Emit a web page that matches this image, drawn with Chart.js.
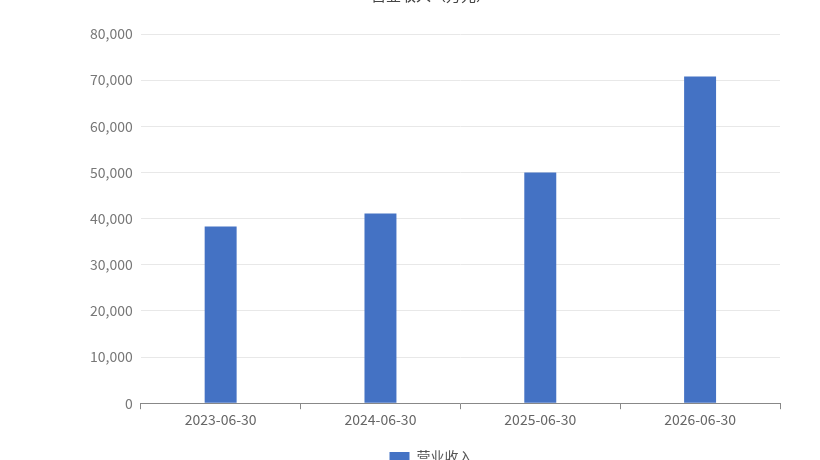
<!DOCTYPE html><html><head><meta charset="utf-8">
<script src="https://cdn.jsdelivr.net/npm/chart.js@4"></script>
<style>html,body{margin:0;padding:0;overflow:hidden;background:#fff;width:820px;height:460px}
#w{position:absolute;left:0;top:-20px;width:820px;height:500px}</style></head><body>
<div id="w"><canvas id="c"></canvas></div>
<script>
const categories=['2023-06-30','2024-06-30','2025-06-30','2026-06-30'];
const seriesName='营业收入';
const values=[38300,41100,50000,70800];
const titleText='营业收入（万元）';
const font='"Noto Sans CJK SC","Noto Sans",sans-serif';
new Chart(document.getElementById('c'),{type:'bar',
data:{labels:categories,datasets:[{label:seriesName,data:values,backgroundColor:'#4472c4',barPercentage:0.2,categoryPercentage:1}]},
options:{responsive:true,maintainAspectRatio:false,animation:false,
layout:{padding:{left:82,right:40,top:0,bottom:6}},
plugins:{title:{display:true,text:titleText,color:'#444',font:{family:font,size:15,weight:'normal'},padding:{top:6,bottom:30}},
legend:{position:'bottom',labels:{font:{family:font,size:14},color:'#555',boxWidth:20,boxHeight:10,padding:20}}},
scales:{x:{grid:{display:true,drawOnChartArea:false,drawTicks:true,tickLength:6,color:'#888',offset:true},border:{color:'#888'},ticks:{color:'#666',font:{family:font,size:14},padding:2}},
y:{min:0,max:80000,ticks:{stepSize:10000,color:'#777',font:{family:font,size:14},padding:8,callback:v=>v.toLocaleString('en-US')},grid:{color:'#e8e8e8',drawTicks:false},border:{display:false}}}}});
</script></body></html>
